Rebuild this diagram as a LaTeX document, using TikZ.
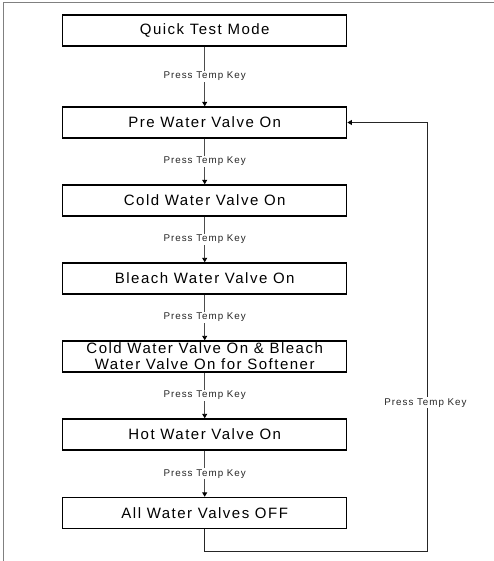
\documentclass[tikz,border=0pt]{standalone}
\usepackage{fontspec}
\setmainfont{Liberation Sans}[LetterSpace=10]
\usetikzlibrary{arrows.meta}
\begin{document}
\begin{tikzpicture}[x=1pt,y=-1pt,
  stepbox/.style={draw=black,line width=1.4pt,minimum width=284pt,minimum height=31pt,inner sep=0pt,
    font=\fontsize{15}{16}\selectfont,align=center},
  lbl/.style={fill=white,inner sep=1pt,font=\fontsize{9.8}{11}\selectfont,text=black!85},
  conn/.style={draw=black!70,line width=0.9pt,-{Triangle[width=5pt,length=4.5pt,black]}}
]
\useasboundingbox (0,0) rectangle (494,561);
\draw[black!50,line width=1.2pt] (3.5,561) -- (3.5,2.5) -- (494,2.5);

\node[stepbox] (b1) at (204.7,30.5) {Quick Test Mode};
\node[stepbox] (b2) at (204.7,122.5) {Pre Water Valve On};
\node[stepbox] (b3) at (204.7,200.5) {Cold Water Valve On};
\node[stepbox] (b4) at (204.7,278.5) {Bleach Water Valve On};
\node[stepbox] (b5) at (204.7,356.5) {Cold Water Valve On \& Bleach\\Water Valve On for Softener};
\node[stepbox] (b6) at (204.7,434.5) {Hot Water Valve On};
\node[stepbox] (b7) at (204.7,513) {All Water Valves OFF};

\draw[conn] (b1) -- node[lbl] {Press Temp Key} (b2);
\draw[conn] (b2) -- node[lbl] {Press Temp Key} (b3);
\draw[conn] (b3) -- node[lbl] {Press Temp Key} (b4);
\draw[conn] (b4) -- node[lbl] {Press Temp Key} (b5);
\draw[conn] (b5) -- node[lbl] {Press Temp Key} (b6);
\draw[conn] (b6) -- node[lbl] {Press Temp Key} (b7);

\coordinate (c1) at (204.7,551);
\coordinate (c2) at (427.7,551);
\coordinate (c3) at (427.7,122.5);
\draw[conn,draw=black!85] (b7.south) -- (c1) -- (c2) -- (c3) -- (b2.east);
\node[lbl] (lr) at (425.5,402.7) {Press Temp Key};
\end{tikzpicture}
\end{document}
